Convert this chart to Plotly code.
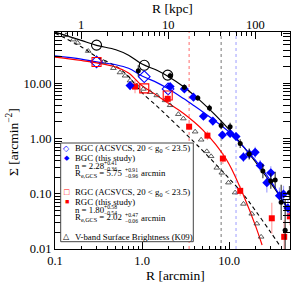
import numpy as np
import plotly.graph_objects as go

# ---------------- data ----------------
# Fitted profiles (R in arcmin, Sigma in arcmin^-2)
CURVE_R = [0.1, 0.2, 0.3, 0.5, 0.7, 1.0, 1.5, 2.0, 3.0, 4.0, 5.0, 7.0, 10, 15, 20, 30, 40, 50]
FIT_ALL = [84.8, 59.8, 48.7, 40.5, 32.3, 22.3, 17.1, 13.3, 8.66, 5.98, 4.39, 2.63, 1.45, 0.676, 0.380, 0.157, 0.0815, 0.0487]
FIT_BLUE = [31.3, 27.4, 24.4, 21.7, 18.7, 13.6, 10.2, 7.98, 5.29, 3.88, 3.03, 2.05, 1.31, 0.676, 0.405, 0.171, 0.0815, 0.044]
RED_R = [0.1, 0.2, 0.3, 0.5, 0.7, 1.0, 1.5, 2.0, 3.0, 4.0, 5.0, 7.0, 10, 15, 20, 23.9]
FIT_RED = [29.7, 25.9, 23.5, 19.7, 15.4, 9.02, 5.98, 4.39, 2.85, 1.97, 1.42, 0.781, 0.343, 0.0849, 0.0268, 0.0118]
V_R = [0.1, 0.2, 0.3, 0.5, 0.7, 1.0, 1.5, 2.0, 3.0, 4.0, 5.0, 7.0, 10, 15, 20, 30, 38.5]
FIT_V = [81.4, 45.8, 30.4, 20.5, 13.3, 6.76, 3.80, 2.47, 1.33, 0.849, 0.598, 0.343, 0.189, 0.092, 0.0497, 0.0201, 0.0113]

# ACSVCS (open symbols)
ALL_ACS_R = [0.30, 1.06, 1.97]
ALL_ACS_S = [49.1, 21.2, 14.1]
BLUE_ACS_R = [0.30, 1.06, 1.99]
BLUE_ACS_S = [24.4, 13.2, 7.9]
RED_ACS_R = [0.30, 1.06, 1.97]
RED_ACS_S = [24.4, 8.1, 6.03]

# This study (filled symbols), errors in dex
ALL_R = [0.905, 2.10, 3.06, 4.37, 5.94, 8.09, 10.26, 13.4, 17.0, 24.4, 30.1, 33.8, 39.6, 44.0, 49.3]
ALL_S = [16.9, 13.7, 8.49, 5.40, 3.58, 1.73, 1.64, 0.81, 0.525, 0.258, 0.171, 0.178, 0.070, 0.0218, 0.105]
ALL_E = [0.10, 0.06, 0.05, 0.05, 0.06, 0.07, 0.07, 0.08, 0.10, 0.13, 0.14, 0.15, 0.32, 0.55, 0.12]

BLUE_R = [0.728, 2.10, 3.06, 3.89, 5.07, 6.50, 8.37, 10.26, 12.0, 14.6, 17.1, 19.9, 22.7, 27.1, 30.1, 37.8, 42.1, 47.3]
BLUE_S = [9.09, 8.73, 7.91, 5.62, 2.54, 2.07, 1.16, 1.24, 1.09, 0.463, 0.525, 0.562, 0.326, 0.159, 0.240, 0.092, 0.099, 0.055]
BLUE_E = [0.06, 0.05, 0.05, 0.05, 0.06, 0.06, 0.07, 0.07, 0.07, 0.09, 0.09, 0.10, 0.10, 0.18, 0.12, 0.15, 0.15, 0.16]

RED_R_PTS = [0.83, 1.97, 3.47, 5.63, 8.47, 13.4, 30.9, 42.9, 49.8]
RED_S = [8.73, 5.24, 1.64, 1.13, 0.434, 0.113, 0.036, 0.0166, 0.039]
RED_E = [0.12, 0.09, 0.06, 0.08, 0.10, 0.09, 0.28, 0.30, 0.16]

# V-band surface brightness (K09), arbitrary scaling
VB_R = [0.134, 0.162, 0.182, 0.241, 0.359, 0.468, 0.558, 0.638, 0.728, 0.869, 1.035, 1.236, 1.476, 1.84, 2.10,
        2.61, 2.98, 4.07, 4.77, 5.54, 6.21, 7.22, 8.24, 9.82, 11.7, 14.6, 18.2, 20.8, 23.3]
VB_S = [74.1, 61.8, 54.0, 38.4, 24.4, 18.8, 15.7, 13.7, 11.2, 9.09, 7.91, 6.91, 6.03, 4.91, 4.00,
        2.76, 2.30, 1.33, 0.95, 0.586, 0.477, 0.295, 0.240, 0.159, 0.105, 0.0655, 0.0434, 0.0288, 0.0166]

# Vertical reference radii (arcmin)
VLINE_RED = 3.47
VLINE_ALL = 8.09
VLINE_BLUE = 12.0

KPC_PER_ARCMIN = 5.0
X_TICKS = [0.1, 1, 10]
X_TICKTEXT = ["0.1", "1.0", "10.0"]
Y_TICKS = [0.01, 0.1, 1, 10]
Y_TICKTEXT = ["0.01", "0.10", "1.00", "10.00"]
KPC_TICKS = [1, 10, 100]
KPC_TICKTEXT = ["1", "10", "100"]

X_RANGE = [0.1, 50]
Y_RANGE = [0.01, 85]

# ---------------- styling ----------------
FONT = "Liberation Serif"
BLUE = "#0000ff"
RED = "#ff0000"
BLACK = "#000000"
W, H = 299, 287
PL, PR, PT, PB = 55, 290, 32, 249


def err(vals, dex):
    v = np.array(vals)
    d = np.array(dex)
    return dict(type="data", symmetric=False, array=v * (10 ** d - 1),
                arrayminus=v * (1 - 10 ** (-d)), thickness=1.2, width=0)


fig = go.Figure()

# vertical dotted lines
for xv, col in [(VLINE_RED, "rgba(255,60,60,0.85)"), (VLINE_ALL, "rgba(0,0,0,0.6)"),
                (VLINE_BLUE, "rgba(120,120,255,0.8)")]:
    fig.add_trace(go.Scatter(x=[xv, xv], y=Y_RANGE, mode="lines",
                             line=dict(color=col, width=0.9, dash="dot"),
                             showlegend=False, hoverinfo="skip"))

# fit curves
fig.add_trace(go.Scatter(x=V_R, y=FIT_V, mode="lines",
                         line=dict(color=BLACK, width=1.1, dash="4px,3px", shape="spline"), showlegend=False))
fig.add_trace(go.Scatter(x=CURVE_R, y=FIT_ALL, mode="lines",
                         line=dict(color=BLACK, width=1.2, shape="spline"), showlegend=False))
fig.add_trace(go.Scatter(x=CURVE_R, y=FIT_BLUE, mode="lines",
                         line=dict(color=BLUE, width=1.2, shape="spline"), showlegend=False))
fig.add_trace(go.Scatter(x=RED_R, y=FIT_RED, mode="lines",
                         line=dict(color=RED, width=1.2, shape="spline"), showlegend=False))

# V-band triangles
fig.add_trace(go.Scatter(x=VB_R, y=VB_S, mode="markers",
                         marker=dict(symbol="triangle-up-open", size=5, color="#333333", line=dict(width=0.8)),
                         showlegend=False))

# ACSVCS open symbols
fig.add_trace(go.Scatter(x=ALL_ACS_R, y=ALL_ACS_S, mode="markers",
                         marker=dict(symbol="circle-open", size=10, color=BLACK, line=dict(width=1.1)),
                         showlegend=False))
fig.add_trace(go.Scatter(x=BLUE_ACS_R, y=BLUE_ACS_S, mode="markers",
                         marker=dict(symbol="diamond-open", size=9, color=BLUE, line=dict(width=1.1)),
                         showlegend=False))
fig.add_trace(go.Scatter(x=RED_ACS_R, y=RED_ACS_S, mode="markers",
                         marker=dict(symbol="square-open", size=9, color=RED, line=dict(width=1.1)),
                         showlegend=False))

# this study filled symbols
e = err(RED_S, RED_E); e["color"] = "rgba(255,90,90,0.55)"
fig.add_trace(go.Scatter(x=RED_R_PTS, y=RED_S, mode="markers", error_y=e,
                         marker=dict(symbol="square", size=6, color=RED), showlegend=False))
e = err(BLUE_S, BLUE_E); e["color"] = "rgba(90,90,255,0.55)"
fig.add_trace(go.Scatter(x=BLUE_R, y=BLUE_S, mode="markers", error_y=e,
                         marker=dict(symbol="diamond", size=7, color=BLUE), showlegend=False))
e = err(ALL_S, ALL_E); e["color"] = "rgba(0,0,0,0.75)"
fig.add_trace(go.Scatter(x=ALL_R, y=ALL_S, mode="markers", error_y=e,
                         marker=dict(symbol="circle", size=5, color=BLACK), showlegend=False))

# dummy trace to activate top (kpc) axis
fig.add_trace(go.Scatter(x=[KPC_TICKS[0]], y=[1], xaxis="x2", mode="markers",
                         marker=dict(opacity=0), showlegend=False, hoverinfo="skip"))


# ---------------- text helpers (paper coords from pixel layout) ----------------
def px(x):
    return (x - PL) / (PR - PL)


def py(y):
    return (PB - y) / (PB - PT)


ann = []


def text(x, y, s, size=8.8, color=BLACK, anchor="left", angle=0, pad=1):
    ann.append(dict(x=px(x), y=py(y), xref="paper", yref="paper", text=s, showarrow=False,
                    xanchor=anchor, yanchor="middle", textangle=angle, borderpad=pad,
                    font=dict(family=FONT, size=size, color=color)))


def scripts(x, y, up, lo):
    text(x, y - 2.9, up, size=5.6, pad=0)
    text(x, y + 3.1, lo, size=5.6, pad=0)


# axis titles
text(175, 275, "R [arcmin]", size=13.5, anchor="center")
text(172, 8.5, "R [kpc]", size=13.5, anchor="center")
text(12, 142, "Σ [arcmin<sup>−2</sup>]", size=13.5, anchor="center", angle=-90)

# legend box
fig.add_shape(type="rect", xref="paper", yref="paper", x0=px(60.7), x1=px(193.3), y0=py(241.7), y1=py(143),
              line=dict(color="#444444", width=1), fillcolor="white", layer="above")

TXT_X = 72.5
SYM_X = 66.5
text(SYM_X, 148.3, "◇", size=8, color=BLUE, anchor="center")
text(TXT_X, 148.3, "BGC (ACSVCS, 20 < g<sub>0</sub> < 23.5)")
text(SYM_X, 158.3, "◆", size=7, color=BLUE, anchor="center")
text(TXT_X, 158.3, "BGC (this study)")
text(TXT_X, 165.7, "n = 2.28")
scripts(102.5, 165.7, "+0.41", "−0.36")
text(TXT_X, 173.3, "R<sub>e,GCS</sub> = 5.75")
scripts(123.5, 173.3, "+0.91", "−0.96")
text(138.5, 173.3, "arcmin")

text(SYM_X, 192.3, "□", size=9, color=RED, anchor="center")
text(TXT_X, 192.3, "RGC (ACSVCS, 20 < g<sub>0</sub> < 23.5)")
text(SYM_X, 201.7, "■", size=7, color=RED, anchor="center")
text(TXT_X, 201.7, "RGC (this study)")
text(TXT_X, 210.0, "n = 1.80")
scripts(102.5, 210.0, "+0.58", "−0.54")
text(TXT_X, 217.7, "R<sub>e,GCS</sub> = 2.02")
scripts(123.5, 217.7, "+0.47", "−0.06")
text(138.5, 217.7, "arcmin")

text(SYM_X, 236.7, "△", size=8, color=BLACK, anchor="center")
text(TXT_X, 236.7, "V-band Surface Brightness (K09)")


# ---------------- axes ----------------
def minor_vals(lo_dec, hi_dec):
    out = []
    for d in range(lo_dec, hi_dec + 1):
        for m in range(2, 10):
            out.append(m * 10.0 ** d)
    return out


axis_font = dict(family=FONT, size=12.5, color=BLACK)
common = dict(type="log", ticks="inside", ticklen=7, tickwidth=1, tickcolor=BLACK, showgrid=False,
              zeroline=False, tickfont=axis_font, automargin=False)

fig.update_layout(
    width=W, height=H,
    margin=dict(l=PL, r=W - PR, t=PT, b=H - PB, autoexpand=False),
    paper_bgcolor="white", plot_bgcolor="white",
    showlegend=False,
    font=dict(family=FONT, color=BLACK),
    annotations=ann,
    xaxis=dict(range=[np.log10(X_RANGE[0]), np.log10(X_RANGE[1])],
               tickvals=X_TICKS, ticktext=X_TICKTEXT,
               showline=True, linecolor=BLACK, linewidth=1, mirror=True,
               minor=dict(ticks="inside", ticklen=3.5, tickcolor=BLACK, tickvals=minor_vals(-1, 1), showgrid=False),
               **common),
    xaxis2=dict(overlaying="x", side="top", anchor="y",
                range=[np.log10(X_RANGE[0] * KPC_PER_ARCMIN), np.log10(X_RANGE[1] * KPC_PER_ARCMIN)],
                tickvals=KPC_TICKS, ticktext=KPC_TICKTEXT, showline=False,
                minor=dict(ticks="inside", ticklen=3.5, tickcolor=BLACK, tickvals=minor_vals(-1, 2), showgrid=False),
                **common),
    yaxis=dict(range=[np.log10(Y_RANGE[0]), np.log10(Y_RANGE[1])],
               tickvals=Y_TICKS, ticktext=Y_TICKTEXT,
               showline=True, linecolor=BLACK, linewidth=1, mirror="allticks",
               minor=dict(ticks="inside", ticklen=3.5, tickcolor=BLACK, tickvals=minor_vals(-2, 1), showgrid=False),
               **common),
)

fig.write_html("out.html", config={"displayModeBar": False, "staticPlot": True},
               post_script="document.body.style.margin='0px';")
